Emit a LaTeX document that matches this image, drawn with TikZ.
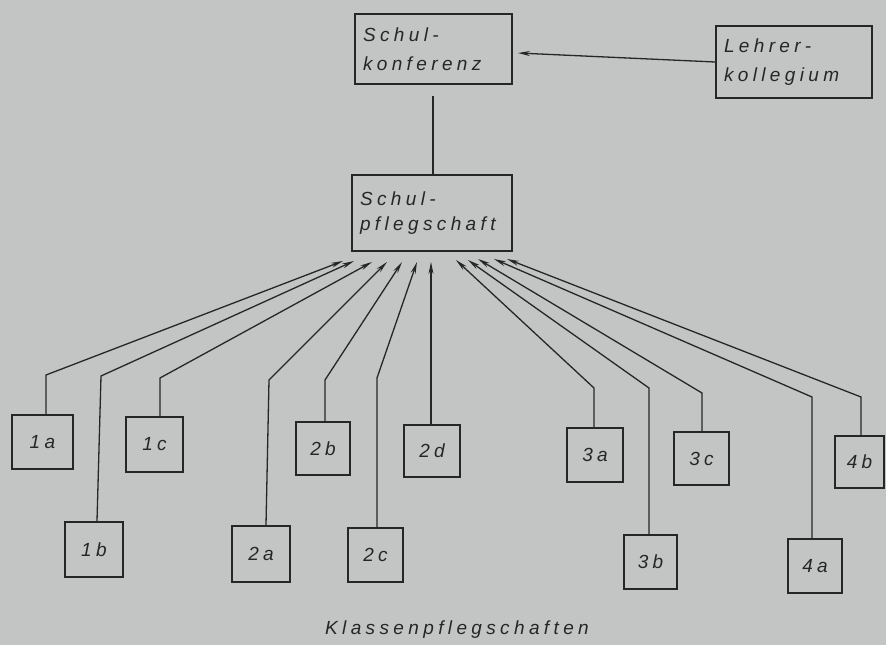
\documentclass[tikz,border=0pt]{standalone}
\usepackage{fontspec}
\setmainfont{Liberation Sans}
\newfontfamily\letfont[LetterSpace=23]{Liberation Sans}
\usetikzlibrary{arrows.meta}
\definecolor{paper}{RGB}{195,197,196}
\definecolor{ink}{RGB}{38,38,38}
\begin{document}
\begin{tikzpicture}[x=1pt,y=-1pt,
  box/.style={draw=ink, line width=1.7pt, inner sep=0pt, text=ink},
  bigbox/.style={box, align=left, text width=#1,
    font=\letfont\itshape\fontsize{19}{29}\selectfont},
  cls/.style={box, font=\letfont\itshape\fontsize{19}{20}\selectfont},
  conn/.style={draw=ink, line width=1.3pt},
  arr/.style={conn, -{Stealth[length=12pt,width=5pt]}},
  caption/.style={text=ink, font=\letfont\itshape\fontsize{19}{20}\selectfont}]
\fill[paper] (0,0) rectangle (886,645);
\useasboundingbox (0,0) rectangle (886,645);

% top boxes
\node[bigbox=141pt, minimum width=157pt, minimum height=70pt] (sk) at (433.5,49) {Schul-\\konferenz};
\node[bigbox=140pt, minimum width=156pt, minimum height=72pt] (lk) at (794,62) {Lehrer-\\kollegium};
\node[bigbox=144pt, minimum width=160pt, minimum height=76pt, font=\letfont\itshape\fontsize{19}{25}\selectfont] (sp) at (432,213) {Schul-\\pflegschaft};

\coordinate (skin) at (518,53);
\draw[arr] (lk.west) -- (skin);
\coordinate (sktop) at (433,96);
\draw[conn] (sktop) -- (sp.north -| sktop);

% class boxes
\node[cls, minimum width=61pt, minimum height=54pt] (b1a) at (42.5,442) {1a};
\node[cls, minimum width=58pt, minimum height=55pt] (b1b) at (94,549.5) {1b};
\node[cls, minimum width=57pt, minimum height=55pt] (b1c) at (154.5,444.5) {1c};
\node[cls, minimum width=58pt, minimum height=56pt] (b2a) at (261,554) {2a};
\node[cls, minimum width=54pt, minimum height=53pt] (b2b) at (323,448.5) {2b};
\node[cls, minimum width=55pt, minimum height=54pt] (b2c) at (375.5,555) {2c};
\node[cls, minimum width=56pt, minimum height=52pt] (b2d) at (432,451) {2d};
\node[cls, minimum width=56pt, minimum height=54pt] (b3a) at (595,455) {3a};
\node[cls, minimum width=53pt, minimum height=54pt] (b3b) at (650.5,562) {3b};
\node[cls, minimum width=55pt, minimum height=53pt] (b3c) at (701.5,458.5) {3c};
\node[cls, minimum width=54pt, minimum height=54pt] (b4a) at (815,566) {4a};
\node[cls, minimum width=49pt, minimum height=52pt] (b4b) at (859.5,462) {4b};

% bend points
\coordinate (k1a) at (46,375);
\coordinate (k1b) at (101,376);
\coordinate (k1c) at (160,378);
\coordinate (k2a) at (269,380);
\coordinate (k2b) at (325,380);
\coordinate (k2c) at (377,378);
\coordinate (k3a) at (594,388);
\coordinate (k3b) at (649,388);
\coordinate (k3c) at (702,393);
\coordinate (k4a) at (812,397);
\coordinate (k4b) at (861,397);
% arrow tips
\coordinate (t1a) at (343,261);
\coordinate (t1b) at (354,261);
\coordinate (t1c) at (372,262);
\coordinate (t2a) at (387,262);
\coordinate (t2b) at (402,262);
\coordinate (t2c) at (417,262);
\coordinate (t2d) at (431,262);
\coordinate (t3a) at (456,260);
\coordinate (t3b) at (468,260);
\coordinate (t3c) at (478,259);
\coordinate (t4a) at (494,259);
\coordinate (t4b) at (507,259);

\draw[arr] (k1a |- b1a.north) -- (k1a) -- (t1a);
\draw[arr] (b1b.north) ++(3,0) -- (k1b) -- (t1b);
\draw[arr] (k1c |- b1c.north) -- (k1c) -- (t1c);
\draw[arr] (b2a.north) ++(5,0) -- (k2a) -- (t2a);
\draw[arr] (k2b |- b2b.north) -- (k2b) -- (t2b);
\draw[arr] (k2c |- b2c.north) -- (k2c) -- (t2c);
\draw[arr] (t2d |- b2d.north) -- (t2d);
\draw[arr] (k3a |- b3a.north) -- (k3a) -- (t3a);
\draw[arr] (k3b |- b3b.north) -- (k3b) -- (t3b);
\draw[arr] (k3c |- b3c.north) -- (k3c) -- (t3c);
\draw[arr] (k4a |- b4a.north) -- (k4a) -- (t4a);
\draw[arr] (k4b |- b4b.north) -- (k4b) -- (t4b);

\node[caption] (cap) at (457,630) {Klassenpflegschaften};
\end{tikzpicture}
\end{document}
